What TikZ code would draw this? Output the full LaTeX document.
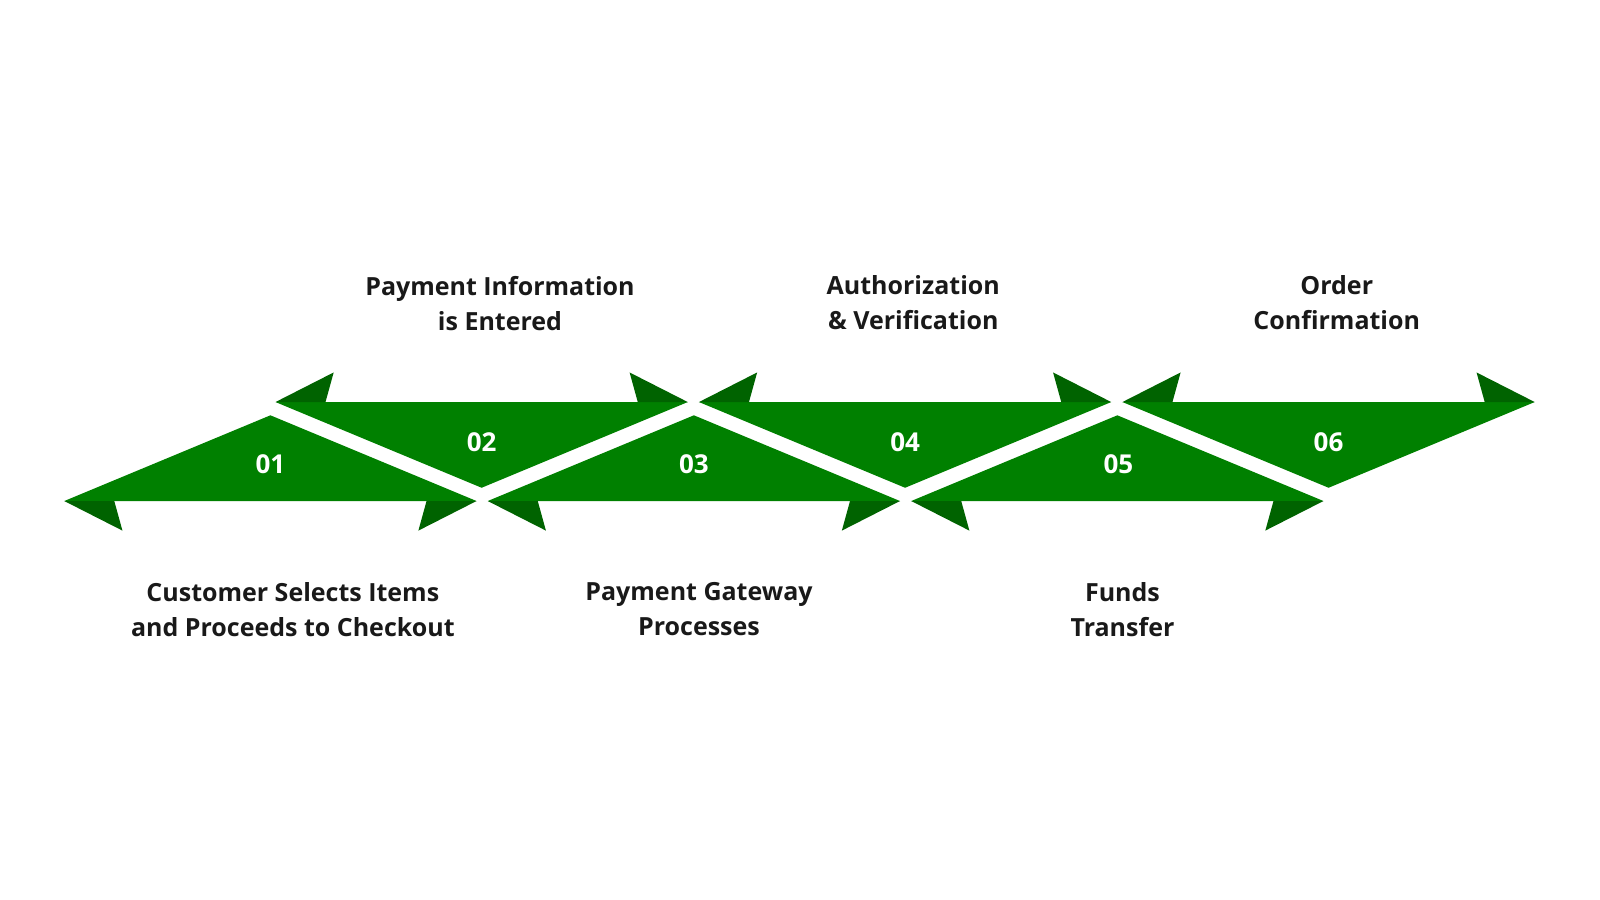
\documentclass[tikz,border=0pt]{standalone}
\usepackage{fontspec}
\setmainfont{Open Sans}
\begin{document}
\begin{tikzpicture}[x=1.0204pt,y=-1.0204pt,
  body/.style={fill=green!50!black,draw=none},
  barb/.style={fill=green!39!black,draw=none},
  num/.style={text=white,font=\fontsize{26}{30}\selectfont\bfseries},
  lab/.style={align=center,font=\fontsize{25}{35}\selectfont\bfseries,text=black!90}]
\useasboundingbox (0,0) rectangle (1568,882);
% bottom shapes: left tip x0, base y 491, apex y 407
\foreach \x in {63,478,893}{
  \fill[body] (\x,491) -- (\x+202,407) -- (\x+404,491) -- cycle;
  \fill[barb] (\x,491) -- (\x+57,520) -- (\x+49,491) -- cycle;
  \fill[barb] (\x+404,491) -- (\x+347,520) -- (\x+355,491) -- cycle;
}
% top shapes: edge y 394, vertex y 478
\foreach \x in {270,685,1100}{
  \fill[body] (\x,394) -- (\x+202,478) -- (\x+404,394) -- cycle;
  \fill[barb] (\x,394) -- (\x+57,365) -- (\x+49,394) -- cycle;
  \fill[barb] (\x+404,394) -- (\x+347,365) -- (\x+355,394) -- cycle;
}
\node[num] (n1) at (265,455) {01};
\node[num] (n2) at (472,433) {02};
\node[num] (n3) at (680,455) {03};
\node[num] (n4) at (887,433) {04};
\node[num] (n5) at (1096,455) {05};
\node[num] (n6) at (1302,433) {06};
\node[lab] (l1) at (287,597) {Customer Selects Items\\and Proceeds to Checkout};
\node[lab] (l2) at (490,297) {Payment Information\\is Entered};
\node[lab] (l3) at (685,597) {Payment Gateway\\Processes};
\node[lab] (l4) at (895,297) {Authorization\\\& Verification};
\node[lab] (l5) at (1100,597) {Funds\\Transfer};
\node[lab] (l6) at (1310,297) {Order\\Confirmation};
\end{tikzpicture}
\end{document}
